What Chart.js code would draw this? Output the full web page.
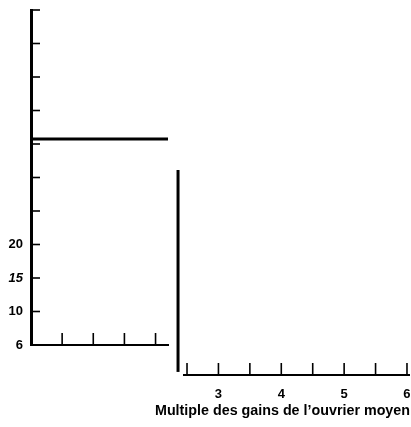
<!DOCTYPE html>
<html>
<head>
<meta charset="utf-8">
<script src="https://cdn.jsdelivr.net/npm/chart.js@4"></script>
<style>
  body { margin: 0; background: #fff; }
  canvas { position: absolute; left: 0; top: 0; }
</style>
</head>
<body>
<canvas id="left" width="411" height="427"></canvas>
<canvas id="right" width="411" height="427"></canvas>
<script>
// ---- data ----
const leftYTicks = [5, 10, 15, 20, 25, 30, 35, 40, 45, 50, 55];
const leftYLabelValues = [5, 10, 15, 20];
const leftYLabels = ['6', '10', '15', '20'];
const leftXTicks = [1, 2, 3, 4];
const levelLine = [35.75, 35.75];       // horizontal line, left panel
const levelLineX = [0, 4.4];

const rightXTicks = [2.5, 3, 3.5, 4, 4.5, 5, 5.5, 6];
const rightXLabels = [3, 4, 5, 6];
const rightVertX = 2.357;                // vertical line, right panel
const rightVertY = [0.015, 1];
const rightAxisX = [2.436, 6.048];
const xTitle = 'Multiple des gains de l\u2019ouvrier moyen';

const FONT = '"Liberation Sans", Arial, sans-serif';

// ticks drawn on the inside of the axis, as in the scan
const insideTicks = {
  id: 'insideTicks',
  afterDatasetsDraw(chart, args, opts) {
    const ctx = chart.ctx;
    ctx.save();
    ctx.strokeStyle = '#000';
    ctx.lineWidth = 1.6;
    (opts.marks || []).forEach(m => {
      const scale = chart.scales[m.axis];
      m.values.forEach(v => {
        const p = scale.getPixelForValue(v);
        ctx.beginPath();
        if (scale.isHorizontal()) {
          ctx.moveTo(p, chart.chartArea.bottom);
          ctx.lineTo(p, chart.chartArea.bottom - m.len);
        } else {
          ctx.moveTo(chart.chartArea.left, p);
          ctx.lineTo(chart.chartArea.left + m.len, p);
        }
        ctx.stroke();
      });
    });
    ctx.restore();
  }
};

function noPad(s) {
  s.paddingTop = 0; s.paddingBottom = 0;
  s.paddingLeft = 0; s.paddingRight = 0;
}

// ================= LEFT PANEL =================
new Chart(document.getElementById('left'), {
  type: 'line',
  data: {
    datasets: [{
      data: levelLineX.map((x, i) => ({ x: x, y: levelLine[i] })),
      borderColor: '#000',
      borderWidth: 3,
      pointRadius: 0,
      clip: false
    }]
  },
  options: {
    responsive: false,
    animation: false,
    events: [],
    layout: { padding: { left: 0, top: 10, right: 243, bottom: 82 } },
    scales: {
      x: {
        type: 'linear', min: 0, max: 4.4,
        grid: { display: false },
        border: { display: true, color: '#000', width: 2 },
        ticks: { display: false },
        afterFit: s => { s.height = 0; noPad(s); }
      },
      y: {
        type: 'linear', min: 5, max: 55,
        grid: { display: false, drawTicks: false },
        border: { display: true, color: '#000', width: 3 },
        afterBuildTicks: s => { s.ticks = leftYTicks.map(v => ({ value: v })); },
        ticks: {
          padding: 8,
          color: '#000',
          font: c => ({
            family: FONT, size: 13, weight: 'bold',
            style: c.tick && c.tick.value === 15 ? 'italic' : 'normal'
          }),
          callback: v => {
            const i = leftYLabelValues.indexOf(v);
            return i >= 0 ? leftYLabels[i] : '';
          }
        },
        afterFit: s => { s.width = 31; noPad(s); }
      }
    },
    plugins: {
      legend: { display: false },
      tooltip: { enabled: false },
      insideTicks: {
        marks: [
          { axis: 'y', values: leftYTicks, len: 9 },
          { axis: 'x', values: leftXTicks, len: 12 }
        ]
      }
    }
  },
  plugins: [insideTicks]
});

// ================= RIGHT PANEL =================
new Chart(document.getElementById('right'), {
  type: 'line',
  data: {
    datasets: [{
      data: rightVertY.map(y => ({ x: rightVertX, y: y })),
      borderColor: '#000',
      borderWidth: 3,
      pointRadius: 0,
      clip: false
    }, {
      data: rightAxisX.map(x => ({ x: x, y: 0 })),
      borderColor: '#000',
      borderWidth: 2,
      pointRadius: 0,
      clip: false
    }]
  },
  options: {
    responsive: false,
    animation: false,
    events: [],
    layout: { padding: { left: 150, top: 170, right: 1, bottom: 0 } },
    scales: {
      x: {
        type: 'linear', min: 1.911, max: 6.048,
        grid: { display: false, drawTicks: false },
        border: { display: false },
        afterBuildTicks: s => { s.ticks = rightXTicks.map(v => ({ value: v })); },
        ticks: {
          padding: 12,
          color: '#000',
          maxRotation: 0,
          autoSkip: false,
          font: { family: FONT, size: 13, weight: 'bold' },
          callback: v => rightXLabels.includes(v) ? String(v) : ''
        },
        title: {
          display: true,
          text: xTitle,
          align: 'end',
          color: '#000',
          font: { family: FONT, size: 14.3, weight: 'bold' },
          padding: { top: 0, bottom: 7 }
        },
        afterFit: s => { s.height = 52; noPad(s); }
      },
      y: { type: 'linear', min: 0, max: 1, display: false }
    },
    plugins: {
      legend: { display: false },
      tooltip: { enabled: false },
      insideTicks: {
        marks: [{ axis: 'x', values: rightXTicks, len: 12 }]
      }
    }
  },
  plugins: [insideTicks]
});
</script>
</body>
</html>
